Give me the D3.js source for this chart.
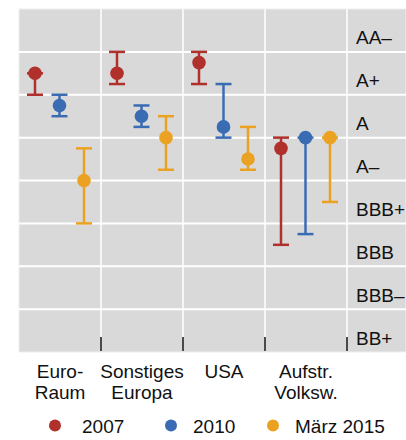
<!DOCTYPE html>
<html>
<head>
<meta charset="utf-8">
<script src="https://cdn.jsdelivr.net/npm/d3@7"></script>
<style>
  html, body { margin: 0; padding: 0; background: #fff; }
  svg { display: block; font-family: "Liberation Sans", Arial, Helvetica, sans-serif; }
</style>
</head>
<body>
<svg id="chart" width="406" height="440"></svg>
<script>
// Regions (two-line axis labels)
const regions = ["Euro-Raum", "Sonstiges Europa", "USA", "Aufstr. Volksw."];
const regionLines = [["Euro-", "Raum"], ["Sonstiges", "Europa"], ["USA"], ["Aufstr.", "Volksw."]];
// Rating scale, best to worst (1 = AA–)
const ratings = ["AA–", "A+", "A", "A–", "BBB+", "BBB", "BBB–", "BB+"];
const seriesNames = ["2007", "2010", "März 2015"];
const seriesColors = ["#b0302c", "#3a6cb4", "#eba223"];

// Average rating and range (best / worst) per region, in rating notches
const mean2007 = [2.0, 2.0, 1.75, 3.75];
const best2007 = [2.0, 1.5, 1.5, 3.5];
const worst2007 = [2.5, 2.25, 2.25, 6.0];

const mean2010 = [2.75, 3.0, 3.25, 3.5];
const best2010 = [2.5, 2.75, 2.25, 3.5];
const worst2010 = [3.0, 3.25, 3.5, 5.75];

const mean2015 = [4.5, 3.5, 4.0, 3.5];
const best2015 = [3.75, 3.0, 3.25, 3.5];
const worst2015 = [5.5, 4.25, 4.25, 5.0];

const seriesData = [
  { mean: mean2007, best: best2007, worst: worst2007 },
  { mean: mean2010, best: best2010, worst: worst2010 },
  { mean: mean2015, best: best2015, worst: worst2015 }
];

const svg = d3.select("#chart");
const plot = { left: 19, right: 406, top: 9, bottom: 352, labelCol: 347 };

const x = d3.scaleBand().domain(regions).range([plot.left, plot.labelCol]);
const xs = d3.scalePoint().domain(seriesNames).range([16, 65]);
const y = d3.scaleLinear().domain([0.5, ratings.length + 0.5]).range([plot.top, plot.bottom]);

// Panel background
svg.append("rect")
  .attr("x", plot.left).attr("y", plot.top)
  .attr("width", plot.right - plot.left).attr("height", plot.bottom - plot.top)
  .attr("fill", "#d9d9d9")
  .attr("stroke", "#efefef").attr("stroke-width", 1);

// Horizontal grid between rating bands
const grid = d3.range(1, ratings.length).map(i => i + 0.5);
svg.append("g").selectAll("line").data(grid).join("line")
  .attr("x1", plot.left).attr("x2", plot.right)
  .attr("y1", d => y(d)).attr("y2", d => y(d))
  .attr("stroke", "#fff").attr("stroke-width", 2);

// Vertical separators between regions and label column
const seps = regions.slice(1).map(r => x(r)).concat([plot.labelCol]);
svg.append("g").selectAll("line").data(seps).join("line")
  .attr("x1", d => d).attr("x2", d => d)
  .attr("y1", plot.top).attr("y2", plot.bottom - 1)
  .attr("stroke", "#fff").attr("stroke-width", 1.5);

// Inward tick marks at the bottom
svg.append("g").selectAll("line").data(seps).join("line")
  .attr("x1", d => d).attr("x2", d => d)
  .attr("y1", plot.bottom - 15).attr("y2", plot.bottom - 1)
  .attr("stroke", "#111").attr("stroke-width", 1.5);

// Rating labels in the right column
svg.append("g").selectAll("text").data(ratings).join("text")
  .attr("x", 356)
  .attr("y", (d, i) => y(i + 1) + 14)
  .attr("font-size", 19)
  .attr("fill", "#111")
  .text(d => d);

// Range bars with caps and mean dots
const capW = 8;
seriesData.forEach((s, si) => {
  const g = svg.append("g");
  const col = seriesColors[si];
  regions.forEach((r, ri) => {
    const cx = x(r) + xs(seriesNames[si]);
    g.append("line")
      .attr("x1", cx).attr("x2", cx)
      .attr("y1", y(s.best[ri])).attr("y2", y(s.worst[ri]))
      .attr("stroke", col).attr("stroke-width", 2.5);
    [s.best[ri], s.worst[ri]].forEach(v => {
      g.append("line")
        .attr("x1", cx - capW).attr("x2", cx + capW)
        .attr("y1", y(v)).attr("y2", y(v))
        .attr("stroke", col).attr("stroke-width", 2.5);
    });
    g.append("circle")
      .attr("cx", cx).attr("cy", y(s.mean[ri]))
      .attr("r", 6.8).attr("fill", col);
  });
});

// Region labels below the panel
const xl = svg.append("g");
regions.forEach((r, ri) => {
  const t = xl.append("text")
    .attr("text-anchor", "middle")
    .attr("font-size", 19)
    .attr("fill", "#111");
  regionLines[ri].forEach((line, li) => {
    t.append("tspan")
      .attr("x", x(r) + x.bandwidth() / 2)
      .attr("y", 378 + li * 21)
      .text(line);
  });
});

// Legend
const legendDotX = [55, 171, 273];
const legendTextX = [82, 193, 295];
const leg = svg.append("g");
seriesNames.forEach((n, i) => {
  leg.append("circle")
    .attr("cx", legendDotX[i]).attr("cy", 425.5)
    .attr("r", 6).attr("fill", seriesColors[i]);
  leg.append("text")
    .attr("x", legendTextX[i]).attr("y", 433)
    .attr("font-size", 19).attr("fill", "#111")
    .text(n);
});
</script>
</body>
</html>
